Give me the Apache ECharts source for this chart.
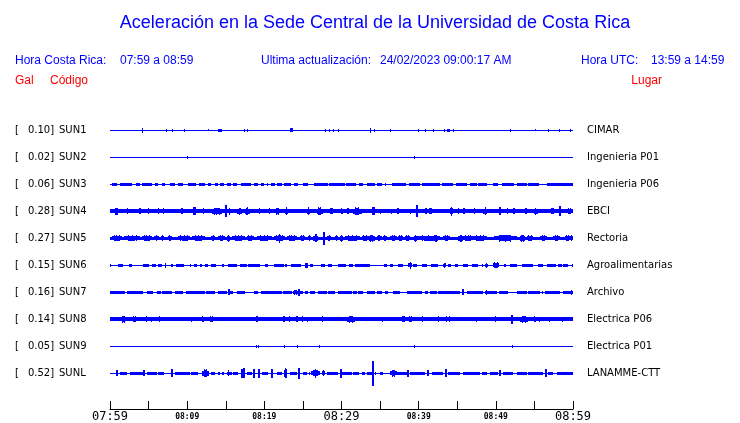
<!DOCTYPE html>
<html><head><meta charset="utf-8">
<script src="https://cdn.jsdelivr.net/npm/echarts@6/dist/echarts.min.js"></script>
<style>html,body{margin:0;padding:0;background:#fff}#c{width:740px;height:423px}</style>
</head><body><div id="c"></div>
<script>
// ---------- data ----------
const codes = ['SUN1','SUN2','SUN3','SUN4','SUN5','SUN6','SUN7','SUN8','SUN9','SUNL'];
const places = ['CIMAR','Ingenieria P01','Ingenieria P06','EBCI','Rectoria','Agroalimentarias','Archivo','Electrica P06','Electrica P01','LANAMME-CTT'];
const galValues = ['0.10','0.02','0.06','0.28','0.27','0.15','0.16','0.14','0.05','0.52'];
// continuous background (noise) thickness of each trace
const baseAmp = [1.3,1.3,1.3,4,3.3,1.3,1.3,3.7,1.3,1.3];
// x axis: minutes after 07:59
const labelMinutes = [0,10,20,30,40,50,60];
const labelTexts = ['07:59','08:09','08:19','08:29','08:39','08:49','08:59'];
const bigLabels = ['07:59','08:29','08:59'];
// header texts
const titleText = 'Aceleración en la Sede Central de la Universidad de Costa Rica';
const headerTexts = ['Hora Costa Rica:','07:59 a 08:59','Ultima actualización:','24/02/2023 09:00:17 AM','Hora UTC:','13:59 a 14:59'];
const redTexts = ['Gal','Código','Lugar'];

// bursts per trace: [startMinute, endMinute, peak-to-peak amplitude]
const sun1 = [[4.2,4.2,4.5],[7.3,7.3,2.5],[8.1,8.1,2.5],[9.7,9.7,3],[12.8,12.8,2],[14.0,14.5,3],[17.4,17.4,2.5],[17.85,17.85,3],[23.3,23.7,3.5],[27.9,27.9,2.5],[28.5,28.5,2.5],[29.0,29.0,2.5],[29.6,29.6,2.5],[33.7,33.7,5],[34.25,34.25,3],[36.2,36.4,3],[40.0,40.0,3],[40.9,40.9,2.5],[41.9,41.9,3],[43.4,43.4,2.5],[43.7,44.0,3],[44.5,44.5,3],[51.9,51.9,2.5],[55.1,55.1,2],[56.8,56.8,2.5],[58.2,58.4,3],[59.65,59.65,3]];
const sun2 = [[10.0,10.0,2.5],[39.4,39.4,2.5]];
const sun3 = [[0.2,0.9,3.3],[1.3,2.8,3.3],[3.4,3.9,3.3],[4.2,5.4,3.3],[5.8,6.2,3.3],[6.7,7.1,3.3],[7.8,8.4,3.3],[8.85,9.4,3.3],[10.1,11.1,3.3],[11.5,12.3,3.3],[12.7,13.1,3.3],[13.6,14.0,3.3],[14.3,14.8,3.3],[15.2,15.7,3.3],[16.0,16.5,3.3],[17.0,18.3,3.3],[18.6,19.2,3.3],[19.6,20.0,3.3],[20.35,20.5,3.3],[20.8,21.4,3.3],[21.7,22.25,3.3],[22.5,23.4,3.3],[23.8,24.4,3.3],[25.0,25.6,3.3],[26.5,28.2,3.3],[28.4,30.45,3.3],[30.6,31.9,3.3],[32.3,32.8,3.3],[33.3,34.3,3.3],[34.55,35.2,3.3],[35.6,35.85,3.3],[36.5,38.3,3.3],[38.7,40.2,3.3],[40.4,42.8,3.3],[43.0,44.5,3.3],[44.8,46.2,3.3],[46.65,47.5,3.3],[47.7,48.8,3.3],[49.6,50.3,3.3],[50.75,52.3,3.3],[52.7,54.0,3.3],[54.2,55.6,3.3],[56.6,60,3.3]];
const sun4 = [[0.65,1.0,6.5],[2.3,2.3,5.5],[3.8,4.0,6],[4.85,5.1,5.5],[6.2,6.4,5.5],[6.9,6.9,5.5],[9.2,9.4,6],[10.8,11.1,8],[12.1,12.1,5.5],[13.2,14.5,7],[15.07,15.07,12],[15.3,15.7,6.5],[16.5,17.1,7],[17.5,18.1,8],[19.1,19.65,6],[20.4,20.95,6],[21.3,22.2,6.5],[22.7,23.1,8],[25.5,25.9,8],[26.8,27.6,8],[28.55,28.9,6],[29.85,30.25,6],[30.7,31.0,5.5],[31.5,32.6,8],[34.0,34.3,8],[35.0,35.0,5],[36.5,36.5,5],[37.2,37.5,5.5],[38.9,38.9,5],[39.74,39.74,12],[40.8,41.1,5.5],[41.4,41.7,6],[44.1,44.5,9],[44.9,45.4,6],[45.7,46.0,6],[47.0,47.5,6],[48.4,48.9,8],[50.4,50.6,8],[51.4,51.6,5.5],[52.2,52.45,6],[53.8,54.1,6],[54.9,55.4,7],[57.2,57.5,6],[58.36,58.36,10],[59.2,60,5.5]];
const sun5 = [[0.2,1.5,5.5],[1.85,3.9,5.5],[4.1,5.4,5.5],[5.75,6.3,5.5],[6.6,7.0,5.5],[7.5,8.0,5.5],[8.8,10.4,5.5],[10.6,12.3,5.5],[13.1,13.6,5.5],[14.0,14.9,6],[15.1,15.55,7],[15.8,17.5,5.5],[17.7,18.6,6],[19.0,20.95,6],[21.2,22.7,6],[21.8,22.2,9],[22.9,24.2,5.5],[24.6,25.3,5.5],[25.7,26.1,5.5],[26.35,27.0,8],[27.6,27.9,13],[28.1,28.7,6],[29.2,29.6,5.5],[29.8,30.25,7],[30.45,32.4,5.5],[32.6,33.5,5.5],[33.5,34.35,7],[34.55,35.2,5.5],[35.4,35.85,6],[36.3,37.15,5.5],[37.35,38.0,6],[38.2,38.9,5.5],[39.4,39.8,7],[39.8,42.76,6],[41.9,42.55,7],[43.2,44.06,5.5],[45.15,45.8,7],[45.8,47.1,5.5],[47.1,48.8,6],[49.7,52.7,6.5],[53.1,53.8,7],[54.0,54.85,5.5],[55.7,56.6,5.5],[57.45,58.3,6],[58.95,59.6,6],[59.6,60,5.5]];
const sun6 = [[0,0.2,3.3],[1.0,1.7,3.3],[2.45,2.9,3.3],[4.3,5.0,3.3],[5.5,5.9,3.3],[6.25,6.8,3.3],[7.1,7.35,5],[7.9,8.2,3.3],[8.5,9.6,3.3],[10.25,10.5,3.3],[10.9,11.25,3.3],[11.6,11.9,3.3],[12.3,12.75,3.3],[13.1,13.8,3.3],[14.5,14.8,3.3],[15.3,16.4,3.3],[16.85,17.7,3.3],[17.9,19.45,3.3],[20.1,20.5,3.3],[21.2,22.5,3.3],[22.7,23.0,3.3],[23.5,24.75,3.3],[25.3,25.6,5],[25.9,26.35,3.3],[27.35,27.85,3.3],[28.2,28.75,3.3],[29.5,30.6,3.3],[31.0,31.45,3.3],[31.75,33.7,3.3],[35.5,35.9,3.3],[36.3,36.7,3.3],[37.35,38.0,3.3],[38.65,39.2,6.5],[39.3,39.8,3.3],[40.4,41.1,3.3],[41.55,42.55,3.3],[43.2,43.6,5],[43.85,44.15,3.3],[44.7,45.15,3.3],[45.7,46.45,3.3],[46.85,47.7,3.3],[48.15,48.4,3.3],[48.6,49.0,5],[49.6,50.45,6],[51.0,51.3,3.3],[51.85,52.7,3.3],[53.35,54.85,3.3],[55.5,56.05,3.3],[56.65,57.8,3.3],[58.1,58.55,3.3],[58.75,59.4,3.3],[59.8,60,3.3]];
const sun7 = [[0,1.95,3],[2.15,4.3,3],[4.75,5.6,3],[6.05,6.6,3],[6.8,8.0,3],[8.4,9.5,3],[9.9,12.3,3],[12.5,13.6,3],[14.0,15.1,3],[15.3,16.0,3],[15.4,15.4,6],[16.4,17.5,3],[18.6,19.2,3],[19.6,22.25,3],[22.45,23.55,3],[23.75,24.4,5],[24.5,24.5,7],[24.6,25.05,3],[25.25,25.7,3],[25.9,26.55,3],[27.0,28.1,3],[28.3,29.15,3],[29.6,31.3,3],[31.5,32.0,3],[32.2,32.8,3],[33.25,34.35,3],[34.55,35.2,3],[35.65,36.05,3],[36.7,37.6,3],[38.45,40.4,3],[40.8,41.25,3],[41.45,42.35,3],[42.55,45.35,3],[45.8,45.8,6],[46.2,48.4,3],[48.6,50.1,3],[48.8,48.8,5],[50.45,51.6,3],[52.7,54.0,3],[54.2,55.7,3],[55.95,56.15,3],[56.35,58.3,3],[58.75,60,3],[59.8,59.8,5]];
const sun8 = [[1.3,2.15,6.5],[2.8,3.65,6],[4.75,4.75,5.5],[5.4,5.4,5],[6.35,6.35,5.5],[10.6,10.6,5],[11.8,12.3,5.5],[12.8,13.6,6],[19.0,19.0,6],[22.6,22.6,6],[23.3,23.3,5.5],[24.2,24.2,6],[24.9,24.9,5.5],[25.6,25.6,5],[27.35,27.8,5.5],[30.65,31.75,7],[35.3,35.3,5],[37.9,38.2,5.5],[38.65,39.3,5.5],[40.2,40.8,6],[42.35,42.75,6],[43.6,43.6,5.5],[44.05,44.05,5.5],[47.5,47.5,5],[49.9,49.9,5.5],[52.15,52.15,9],[53.1,54.2,7],[54.85,55.3,5.5],[55.7,55.7,5],[57.0,57.0,5],[58.5,58.75,5]];
const sun9 = [[19.0,19.0,2.5],[19.3,19.3,3],[22.6,22.6,2.5],[24.3,24.3,2.5],[27.2,27.2,2.5],[39.4,39.4,3],[52.1,52.1,3]];
const sunL = [[0.85,0.85,6],[1.3,2.15,3.3],[2.6,4.3,3.3],[4.45,4.45,6],[4.75,6.05,3.3],[6.25,7.05,3.3],[8.0,8.0,7.5],[8.4,10.4,3.3],[10.5,11.35,3.3],[11.9,12.8,8],[13.1,13.6,3.3],[13.95,14.25,3.3],[14.45,14.8,3.3],[15.1,15.8,3.3],[15.4,15.4,5.5],[16.0,16.6,3.3],[17.05,17.05,9],[17.4,17.4,10],[17.7,18.35,3.3],[18.7,18.7,9],[19.3,19.3,8.5],[19.65,20.5,3.3],[20.95,20.95,8.5],[21.6,22.25,3.3],[22.6,23.0,10],[23.3,24.2,3.3],[24.5,24.5,11],[25.05,25.5,3.3],[25.7,25.9,3.3],[26.05,27.2,6],[26.4,26.9,9],[27.45,27.85,5.5],[28.1,29.6,3.3],[29.9,29.9,9],[30.0,31.3,3.3],[31.5,32.3,3.3],[32.6,33.05,3.3],[33.25,33.9,3.3],[34.1,34.1,25],[34.35,34.55,3.3],[35.0,35.4,3.3],[36.3,37.15,6.5],[37.25,38.45,3.3],[38.65,38.65,7],[38.85,40.8,3.3],[41.25,41.25,6],[41.7,43.2,3.3],[43.55,43.55,7.5],[43.85,45.35,3.3],[45.8,47.95,3.3],[48.15,48.8,3.3],[49.25,50.3,3.3],[50.55,50.55,6],[50.95,52.25,3.3],[52.7,54.0,3.3],[54.2,56.15,3.3],[56.45,56.45,8],[56.8,57.45,3.3],[57.9,60,3.3]];
const traces = [sun1,sun2,sun3,sun4,sun5,sun6,sun7,sun8,sun9,sunL];

// ---------- chart ----------
const ROW = 27;
const BLUE = '#0000ff';
const chart = echarts.init(document.getElementById('c'), null, {renderer:'canvas'});

function rowLabelLeft(v){
  const i = Math.round(v/ROW);
  if (v % ROW !== 0 || i < 0 || i >= codes.length) return '';
  return '{a|[}{b|' + galValues[i] + ']}{c|' + codes[i] + '}';
}
function rowLabelRight(v){
  const i = Math.round(v/ROW);
  if (v % ROW !== 0 || i < 0 || i >= places.length) return '';
  return places[i];
}

function crispRect(xa, xb, yc, hpx){
  const sh = Math.max(1, Math.round(hpx));
  const a = Math.round(xa), b = Math.round(xb);
  return {type:'rect', shape:{x:a, y:Math.round(yc - sh/2), width:Math.max(1, b - a), height:sh}, style:{fill:BLUE}};
}

function makeRenderer(i){
  return function(params, api){
    const s = api.value(0), e = api.value(1), h = api.value(2);
    const p0 = api.coord([s, i*ROW]);
    const p1 = api.coord([e, i*ROW]);
    const yc = p0[1];
    const hh = api.size([0, h])[1];
    const x0 = p0[0], x1 = p1[0];
    const w = x1 - x0;
    if (w < 2) {
      // narrow spike
      const sw = hh >= 6 ? 2 : 1;
      const xm = (x0 + x1) / 2;
      return crispRect(xm - sw/2, xm + sw/2, yc, hh);
    }
    if (hh <= 4 || w < 3) {
      return crispRect(x0, x1, yc, hh);
    }
    // burst: plateau plus a few full-height spikes
    const kids = [crispRect(x0, x1, yc, Math.max(3, hh * 0.68))];
    const n = w > 10 ? 3 : (w > 5 ? 2 : 1);
    for (let k = 1; k <= n; k++) {
      const xm = x0 + w * k / (n + 1);
      kids.push(crispRect(xm - 0.5, xm + 0.5, yc, hh));
    }
    kids.push(crispRect(x0 + w*0.3, x1 - w*0.3, yc, hh * 0.85));
    return {type:'group', children:kids};
  };
}

const series = traces.map((bursts, i) => ({
  type: 'custom',
  silent: true,
  animation: false,
  data: [[0, 60, baseAmp[i]]].concat(bursts),
  renderItem: makeRenderer(i)
}));

const headerFont = '12px "Liberation Sans", Arial, sans-serif';
function txt(text, x, y, color, align, font){
  return {type:'text', x:x, y:y, silent:true,
    style:{text:text, fill:color, font:font||headerFont, textAlign:align||'left', textVerticalAlign:'middle'}};
}

chart.setOption({
  backgroundColor:'#ffffff',
  animation:false,
  grid:{left:110, right:167, top:103, bottom:23, containLabel:false, outerBoundsMode:'none'},
  xAxis:{
    type:'value', min:0, max:60, interval:5, offset:9,
    axisLine:{show:true, onZero:false, lineStyle:{color:'#000', width:1}},
    axisTick:{show:true, inside:true, length:8, lineStyle:{color:'#000', width:1}},
    splitLine:{show:false},
    axisLabel:{
      margin:1,
      formatter:function(v){
        const k = labelMinutes.indexOf(v);
        if (k < 0) return '';
        const t = labelTexts[k];
        return bigLabels.indexOf(t) >= 0 ? '{big|' + t + '}' : '{small|' + t + '}';
      },
      rich:{
        big:{fontFamily:'DejaVu Sans Mono', fontSize:12, color:'#000', lineHeight:14, verticalAlign:'middle'},
        small:{fontFamily:'DejaVu Sans Mono', fontSize:8, fontWeight:'bold', color:'#000', lineHeight:14, verticalAlign:'middle'}
      }
    }
  },
  yAxis:[{
    type:'value', inverse:true, min:-ROW, max:10*ROW, interval:ROW, position:'left',
    axisLine:{show:false, onZero:false}, axisTick:{show:false}, splitLine:{show:false},
    axisLabel:{
      margin:95, align:'left', formatter:rowLabelLeft,
      rich:{
        a:{fontFamily:'DejaVu Sans', fontSize:10, color:'#000', width:12},
        b:{fontFamily:'DejaVu Sans', fontSize:10, color:'#000', width:28, align:'right'},
        c:{fontFamily:'DejaVu Sans', fontSize:10, color:'#000', padding:[0,0,0,4]}
      }
    }
  },{
    type:'value', inverse:true, min:-ROW, max:10*ROW, interval:ROW, position:'right',
    axisLine:{show:false, onZero:false}, axisTick:{show:false}, splitLine:{show:false},
    axisLabel:{margin:14, align:'left', formatter:rowLabelRight,
      fontFamily:'DejaVu Sans', fontSize:10, color:'#000'}
  }],
  graphic:[
    txt(titleText, 375, 23, BLUE, 'center', '18px "Liberation Sans", Arial, sans-serif'),
    txt(headerTexts[0], 15, 61, BLUE),
    txt(headerTexts[1], 120, 61, BLUE),
    txt(headerTexts[2], 261, 61, BLUE),
    txt(headerTexts[3], 380, 61, BLUE),
    txt(headerTexts[4], 581, 61, BLUE),
    txt(headerTexts[5], 651, 61, BLUE),
    txt(redTexts[0], 15, 81, '#ff0000'),
    txt(redTexts[1], 50, 81, '#ff0000'),
    txt(redTexts[2], 662, 81, '#ff0000', 'right')
  ],
  series: series
});
</script></body></html>
